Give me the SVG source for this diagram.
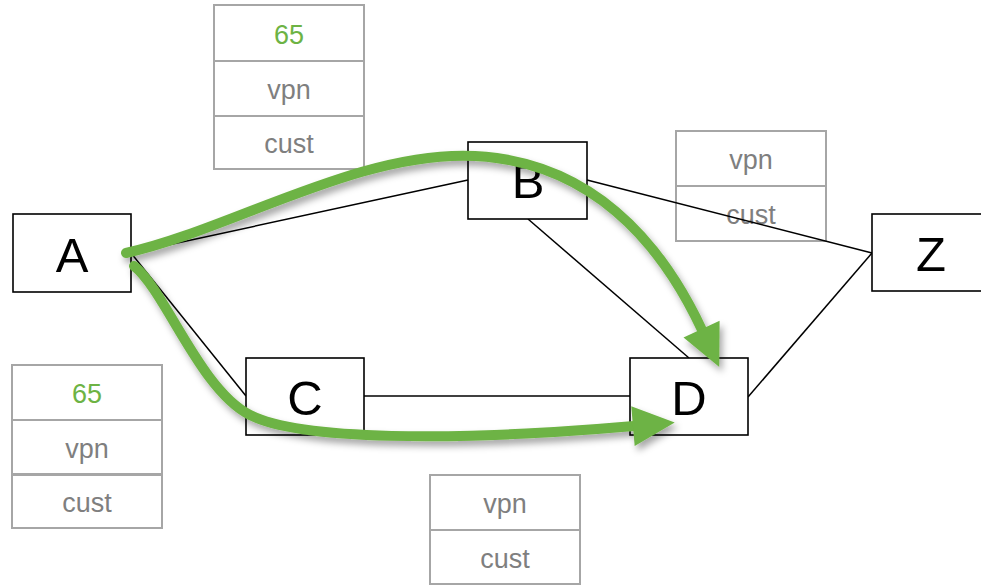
<svg xmlns="http://www.w3.org/2000/svg" width="981" height="585" viewBox="0 0 981 585">
<style>
.cell{fill:#fff;stroke:#a6a6a6;stroke-width:2}
.ct{font-family:"Liberation Sans",Arial,sans-serif;font-size:27px;fill:#7f7f7f;text-anchor:middle}
.g{fill:#6db344}
.node{fill:#fff;stroke:#000;stroke-width:1.6}
.nt{font-family:"Liberation Sans",Arial,sans-serif;font-size:49px;fill:#000;text-anchor:middle}
.ln{stroke:#000;stroke-width:1.5;fill:none}
.gr{stroke:#6db344;stroke-width:10;fill:none;stroke-linecap:round;marker-end:url(#ah)}
</style>
<defs>
<marker id="ah" markerUnits="userSpaceOnUse" markerWidth="44" markerHeight="44" viewBox="0 -20 42 40" refX="1" refY="0" orient="auto" overflow="visible">
<path d="M0,-19 L40,0 L0,19 z" fill="#6db344"/>
</marker>
<filter id="sh" x="-10%" y="-10%" width="120%" height="130%">
<feDropShadow dx="3" dy="5" stdDeviation="3.5" flood-color="#000" flood-opacity="0.35"/>
</filter>
</defs>
<rect width="981" height="585" fill="#fff"/>
<g id="stack-top">
<rect class="cell" x="214" y="5" width="150" height="56"/>
<rect class="cell" x="214" y="61" width="150" height="55"/>
<rect class="cell" x="214" y="116" width="150" height="53"/>
<text class="ct g" x="289" y="44">65</text>
<text class="ct" x="289" y="99">vpn</text>
<text class="ct" x="289" y="153">cust</text>
</g>
<g id="stack-left">
<rect class="cell" x="12" y="365" width="150" height="55"/>
<rect class="cell" x="12" y="420" width="150" height="54"/>
<rect class="cell" x="12" y="475" width="150" height="53"/>
<text class="ct g" x="87" y="403">65</text>
<text class="ct" x="87" y="458">vpn</text>
<text class="ct" x="87" y="512">cust</text>
</g>
<g id="stack-right">
<rect class="cell" x="676" y="131" width="150" height="55"/>
<rect class="cell" x="676" y="186" width="150" height="55"/>
<text class="ct" x="751" y="169">vpn</text>
<text class="ct" x="751" y="224">cust</text>
</g>
<g id="stack-bottom">
<rect class="cell" x="430" y="475" width="150" height="55"/>
<rect class="cell" x="430" y="530" width="150" height="54"/>
<text class="ct" x="505" y="513">vpn</text>
<text class="ct" x="505" y="568">cust</text>
</g>
<g id="connectors">
<line class="ln" x1="131" y1="253" x2="468" y2="180"/>
<line class="ln" x1="131" y1="253" x2="246" y2="396"/>
<line class="ln" x1="364" y1="396" x2="630" y2="396"/>
<line class="ln" x1="528" y1="219" x2="689" y2="358"/>
<line class="ln" x1="587" y1="180" x2="872" y2="253"/>
<line class="ln" x1="748" y1="397" x2="872" y2="253"/>
</g>
<g id="node-A">
<rect class="node" x="13" y="214" width="118" height="78"/>
<text class="nt" x="72" y="272">A</text>
</g>
<g id="node-B">
<rect class="node" x="468" y="142" width="119" height="77"/>
<text class="nt" x="528" y="198">B</text>
</g>
<g id="node-C">
<rect class="node" x="246" y="358" width="118" height="77"/>
<text class="nt" x="305" y="415">C</text>
</g>
<g id="node-D">
<rect class="node" x="630" y="358" width="118" height="77"/>
<text class="nt" x="689" y="415">D</text>
</g>
<g id="node-Z">
<rect class="node" x="872" y="214" width="118" height="77"/>
<text class="nt" x="931" y="271">Z</text>
</g>
<g id="paths" filter="url(#sh)">
<path class="gr" d="M126,253 C230,230 360,150 475,156 C590,162 660,240 702,330"/>
<path class="gr" d="M134,266 C165,290 200,390 250,415 C300,440 450,442 634,426"/>
</g>
</svg>
